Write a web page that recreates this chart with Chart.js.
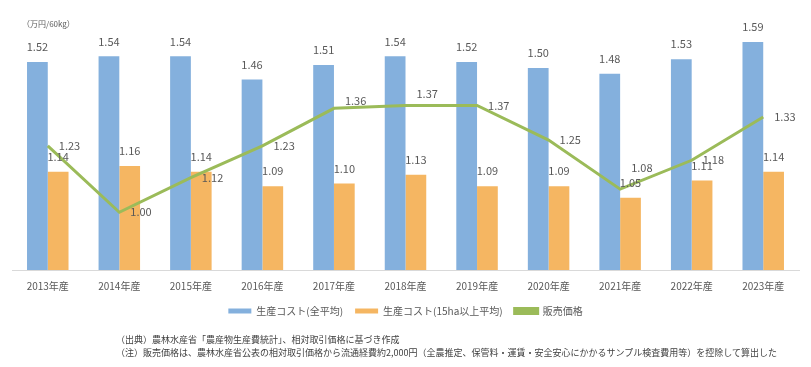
<!DOCTYPE html>
<html>
<head>
<meta charset="utf-8">
<script src="https://cdn.jsdelivr.net/npm/chart.js@4"></script>
<style>
  body { margin: 0; background: #fff; }
  #wrap { position: relative; width: 811px; height: 367px; }
  .note { position: absolute; font-family: "Noto Sans CJK JP", sans-serif; color: #404040; white-space: nowrap; }
  #unit { left: 22px; top: 18px; font-size: 8px; color: #595959; }
  #src { left: 116px; top: 333px; font-size: 9px; line-height: 13px; }
</style>
</head>
<body>
<div id="wrap">
  <canvas id="costChart" width="811" height="367"></canvas>
  <div class="note" id="unit">（万円/60kg）</div>
  <div class="note" id="src">（出典）農林水産省「農産物生産費統計」、相対取引価格に基づき作成<br>（注）販売価格は、農林水産省公表の相対取引価格から流通経費約2,000円（全農推定、保管料・運賃・安全安心にかかるサンプル検査費用等）を控除して算出した</div>
</div>
<script>
const years = ['2013年産', '2014年産', '2015年産', '2016年産', '2017年産', '2018年産',
               '2019年産', '2020年産', '2021年産', '2022年産', '2023年産'];
const costAll = [1.52, 1.54, 1.54, 1.46, 1.51, 1.54, 1.52, 1.50, 1.48, 1.53, 1.59];
const cost15ha = [1.14, 1.16, 1.14, 1.09, 1.10, 1.13, 1.09, 1.09, 1.05, 1.11, 1.14];
const salePrice = [1.23, 1.00, 1.12, 1.23, 1.36, 1.37, 1.37, 1.25, 1.08, 1.18, 1.33];

// vertical nudge for a few price labels so they don't sit on the bars' labels
const priceLabelShift = [0, 0, 0, 0, -7, -12, 0, 0, -21, 0, 0];

const valueLabels = {
  id: 'valueLabels',
  afterDatasetsDraw(chart) {
    const ctx = chart.ctx;
    ctx.save();
    ctx.font = '11px "Noto Sans CJK JP"';
    ctx.fillStyle = '#595959';
    ctx.textBaseline = 'middle';
    chart.data.datasets.forEach((ds, i) => {
      const meta = chart.getDatasetMeta(i);
      meta.data.forEach((el, j) => {
        const text = ds.data[j].toFixed(2);
        if (ds.type === 'line') {
          ctx.textAlign = 'left';
          ctx.fillText(text, el.x + 11, el.y + priceLabelShift[j]);
        } else {
          ctx.textAlign = 'center';
          ctx.fillText(text, el.x, el.y - 15);
        }
      });
    });
    ctx.restore();
  }
};

const ctx = document.getElementById('costChart').getContext('2d');
new Chart(ctx, {
  data: {
    labels: years,
    datasets: [
      {
        type: 'bar',
        label: '生産コスト(全平均)',
        data: costAll,
        backgroundColor: '#84B0DD',
        categoryPercentage: 0.58,
        barPercentage: 1
      },
      {
        type: 'bar',
        label: '生産コスト(15ha以上平均)',
        data: cost15ha,
        backgroundColor: '#F5B662',
        categoryPercentage: 0.58,
        barPercentage: 1
      },
      {
        type: 'line',
        label: '販売価格',
        data: salePrice,
        borderColor: '#9BBB59',
        backgroundColor: '#9BBB59',
        borderWidth: 3,
        pointRadius: 0,
        tension: 0,
        order: -1
      }
    ]
  },
  options: {
    responsive: false,
    animation: false,
    layout: { padding: { left: 12, right: 12, top: 39, bottom: 41 } },
    plugins: {
      legend: {
        position: 'bottom',
        labels: {
          boxWidth: 23,
          boxHeight: 5,
          padding: 12,
          color: '#595959',
          font: { family: '"Noto Sans CJK JP"', size: 10 },
          sort: (a, b) => a.datasetIndex - b.datasetIndex
        }
      },
      tooltip: { enabled: false }
    },
    scales: {
      x: {
        grid: { display: false },
        border: { color: '#D9D9D9' },
        ticks: {
          color: '#595959',
          padding: 2,
          font: { family: '"Noto Sans CJK JP"', size: 10 }
        }
      },
      y: {
        display: false,
        min: 0.8,
        max: 1.6
      }
    }
  },
  plugins: [valueLabels]
});
</script>
</body>
</html>
